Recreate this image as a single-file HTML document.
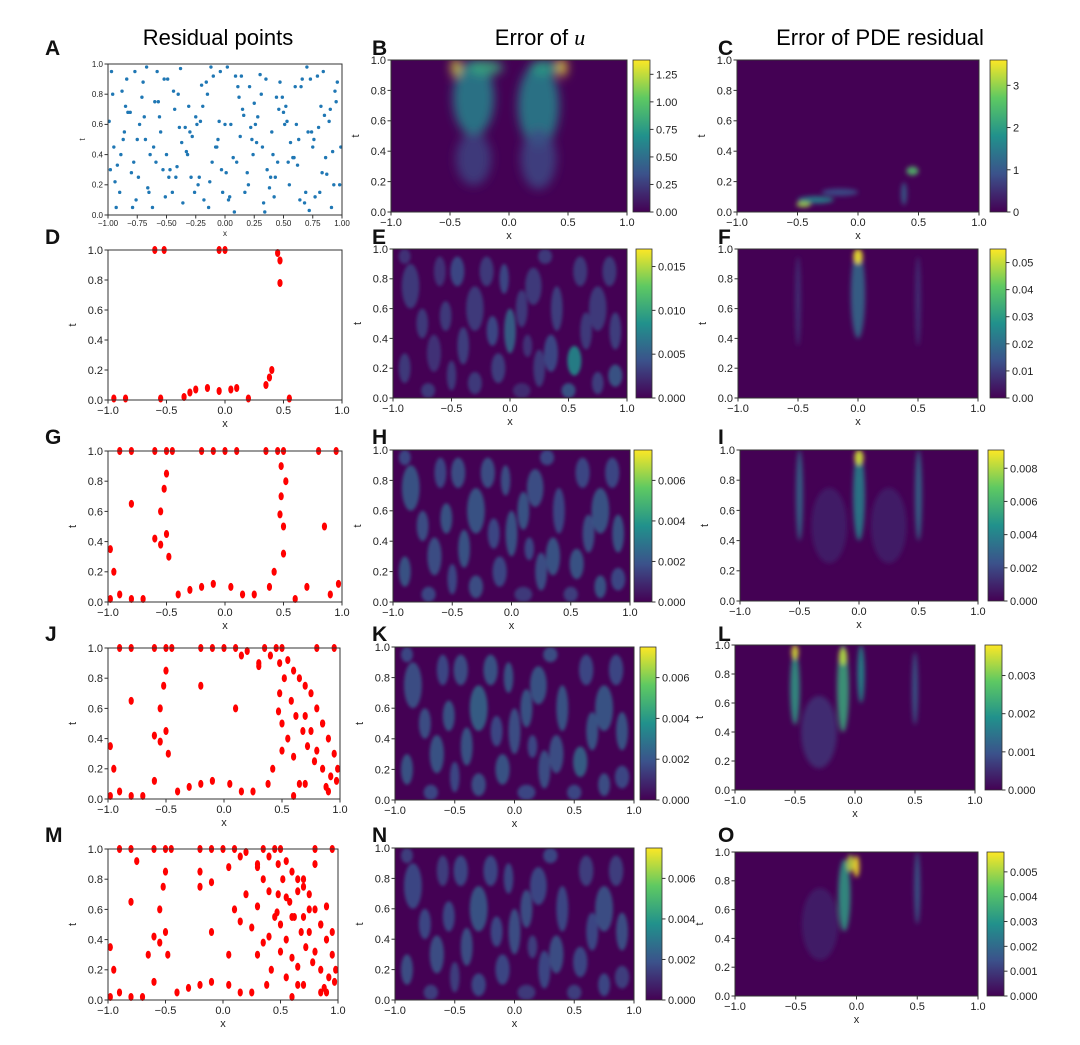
<!DOCTYPE html>
<html><head><meta charset="utf-8"><style>
body{margin:0;background:#fff;}
svg{display:block;font-family:"Liberation Sans",sans-serif;}
</style></head><body>
<svg id="fig" width="1080" height="1045" viewBox="0 0 1080 1045">
<defs>
<linearGradient id="vir" x1="0" y1="1" x2="0" y2="0">
<stop offset="0" stop-color="#440154"/><stop offset="0.25" stop-color="#3b528b"/><stop offset="0.5" stop-color="#21918c"/><stop offset="0.75" stop-color="#5ec962"/><stop offset="1" stop-color="#fde725"/>
</linearGradient>
<filter id="bl" x="-50%" y="-50%" width="200%" height="200%"><feGaussianBlur stdDeviation="2.5"/></filter>
<filter id="bl1" x="-50%" y="-50%" width="200%" height="200%"><feGaussianBlur stdDeviation="1.5"/></filter>
<filter id="bl2" x="-50%" y="-50%" width="200%" height="200%"><feGaussianBlur stdDeviation="5"/></filter>
</defs>
<text x="218" y="45" font-size="22" text-anchor="middle">Residual points</text>
<text x="540" y="45" font-size="22" text-anchor="middle">Error of <tspan font-family="Liberation Serif" font-style="italic">u</tspan></text>
<text x="880" y="45" font-size="22" text-anchor="middle">Error of PDE residual</text>
</svg>
<script>
// ---- data ----
const xTicksA=[-1,-0.75,-0.5,-0.25,0,0.25,0.5,0.75,1];
const xTickLabelsA=["−1.00","−0.75","−0.50","−0.25","0.00","0.25","0.50","0.75","1.00"];
const xTicks=[-1,-0.5,0,0.5,1];
const xTickLabels=["−1.0","−0.5","0.0","0.5","1.0"];
const tTicks=[0,0.2,0.4,0.6,0.8,1];
const tTickLabels=["0.0","0.2","0.4","0.6","0.8","1.0"];
// uniform residual points (panel A)
const ax=[-0.97,-0.9,-0.85,-0.78,-0.7,-0.62,-0.55,-0.48,-0.4,-0.33,-0.25,-0.18,-0.1,-0.03,0.05,0.12,0.2,0.27,0.35,0.42,0.5,0.58,0.65,0.72,0.8,0.87,0.95,
-0.95,-0.88,-0.8,-0.73,-0.66,-0.58,-0.5,-0.43,-0.36,-0.28,-0.2,-0.13,-0.05,0.02,0.1,0.17,0.25,0.32,0.4,0.47,0.55,0.62,0.7,0.77,0.85,0.92,
-0.99,-0.92,-0.84,-0.76,-0.68,-0.6,-0.53,-0.45,-0.38,-0.3,-0.22,-0.15,-0.07,0.0,0.08,0.15,0.23,0.3,0.38,0.45,0.53,0.6,0.68,0.75,0.83,0.9,0.98,
-0.94,-0.86,-0.79,-0.71,-0.64,-0.56,-0.49,-0.41,-0.34,-0.26,-0.19,-0.11,-0.04,0.04,0.11,0.19,0.26,0.34,0.41,0.49,0.56,0.64,0.71,0.79,0.86,0.94,
-0.96,-0.89,-0.81,-0.74,-0.67,-0.59,-0.51,-0.44,-0.37,-0.29,-0.21,-0.14,-0.06,0.01,0.09,0.16,0.24,0.31,0.39,0.46,0.54,0.61,0.69,0.76,0.84,0.91,0.99,
-0.93,-0.83,-0.75,-0.65,-0.57,-0.47,-0.39,-0.31,-0.23,-0.16,-0.08,0.03,0.13,0.21,0.28,0.36,0.44,0.51,0.59,0.66,0.74,0.81,0.89,0.96,
-0.98,-0.87,-0.77,-0.69,-0.61,-0.52,-0.42,-0.32,-0.24,-0.12,-0.02,0.07,0.14,0.22,0.33,0.43,0.52,0.63,0.73,0.82,0.93];
const at=[0.95,0.15,0.72,0.35,0.88,0.05,0.55,0.25,0.8,0.42,0.65,0.1,0.92,0.3,0.6,0.78,0.2,0.48,0.9,0.12,0.68,0.38,0.85,0.03,0.58,0.27,0.75,
0.45,0.82,0.28,0.6,0.18,0.95,0.4,0.7,0.08,0.52,0.86,0.22,0.62,0.98,0.35,0.15,0.74,0.45,0.55,0.88,0.2,0.33,0.98,0.12,0.66,0.42,
0.62,0.33,0.9,0.1,0.5,0.75,0.3,0.15,0.97,0.55,0.25,0.8,0.45,0.6,0.02,0.7,0.5,0.93,0.18,0.35,0.62,0.85,0.08,0.45,0.28,0.7,0.2,
0.22,0.55,0.05,0.78,0.4,0.65,0.9,0.32,0.58,0.15,0.72,0.35,0.95,0.12,0.85,0.28,0.6,0.02,0.4,0.78,0.48,0.1,0.55,0.92,0.38,0.82,
0.8,0.4,0.68,0.25,0.98,0.35,0.12,0.82,0.48,0.25,0.62,0.05,0.5,0.28,0.92,0.66,0.4,0.8,0.25,0.7,0.35,0.6,0.15,0.5,0.95,0.05,0.45,
0.05,0.68,0.5,0.15,0.75,0.3,0.58,0.72,0.2,0.88,0.45,0.1,0.52,0.85,0.65,0.3,0.78,0.6,0.38,0.9,0.55,0.15,0.62,0.88,
0.3,0.5,0.95,0.65,0.45,0.9,0.25,0.4,0.6,0.98,0.15,0.38,0.92,0.58,0.08,0.25,0.72,0.5,0.9,0.72,0.2];
// adaptive residual points (red) per panel
const dX=[-0.6,-0.52,-0.05,0.0,0.45,0.47,0.47,-0.95,-0.85,-0.55,-0.3,-0.25,-0.15,-0.05,0.05,0.1,-0.35,0.35,0.38,0.4,0.2,0.55];
const dT=[1.0,1.0,1.0,1.0,0.98,0.93,0.78,0.01,0.01,0.01,0.05,0.07,0.08,0.06,0.07,0.08,0.02,0.1,0.15,0.2,0.01,0.01];
const gX=[-0.9,-0.8,-0.6,-0.5,-0.45,-0.2,-0.1,0.0,0.1,0.35,0.45,0.5,0.48,0.52,0.8,0.95,-0.5,-0.52,-0.55,-0.5,-0.48,0.48,0.47,0.5,0.5,-0.8,-0.6,-0.55,0.85,-0.98,-0.95,-0.9,-0.8,-0.7,-0.4,-0.3,-0.2,-0.1,0.05,0.15,0.25,0.38,0.42,0.6,0.7,0.9,0.97,-0.98];
const gT=[1.0,1.0,1.0,1.0,1.0,1.0,1.0,1.0,1.0,1.0,1.0,1.0,0.9,0.8,1.0,1.0,0.85,0.75,0.6,0.45,0.3,0.7,0.58,0.5,0.32,0.65,0.42,0.38,0.5,0.35,0.2,0.05,0.02,0.02,0.05,0.08,0.1,0.12,0.1,0.05,0.05,0.1,0.2,0.02,0.1,0.05,0.12,0.02];
const jX=gX.concat([0.15,0.3,0.55,0.6,0.65,0.7,0.75,0.8,0.85,0.9,0.95,0.58,0.62,0.68,0.72,0.78,0.85,0.92,0.55,0.65,0.75,0.2,0.3,0.4,0.6,0.7,0.8,0.88,0.98,-0.2,-0.6,0.1]);
const jT=gT.concat([0.95,0.9,0.92,0.85,0.8,0.75,0.7,0.6,0.5,0.4,0.3,0.65,0.55,0.45,0.35,0.25,0.2,0.15,0.4,0.1,0.45,0.98,0.88,0.95,0.28,0.55,0.32,0.08,0.2,0.75,0.12,0.6]);
const mX=jX.concat([-0.2,-0.1,0.05,0.2,0.3,0.35,0.4,0.55,0.6,0.65,0.7,0.8,0.9,0.95,0.25,0.35,0.45,0.55,0.65,0.75,0.85,0.3,0.4,-0.75,-0.65,-0.1,0.05,0.15]);
const mT=jT.concat([0.85,0.78,0.88,0.7,0.62,0.8,0.72,0.15,0.55,0.22,0.8,0.9,0.62,0.45,0.48,0.38,0.55,0.68,0.72,0.6,0.05,0.3,0.42,0.92,0.3,0.45,0.3,0.52]);
// heatmap blobs [x, t, width, height, intensity(0-1)]
const bBlobs=[[-0.3,0.75,0.35,0.5,0.45],[0.25,0.7,0.35,0.55,0.45],[-0.3,0.35,0.3,0.35,0.2],[0.25,0.35,0.3,0.4,0.22],[-0.45,0.95,0.08,0.12,0.95],[0.45,0.95,0.08,0.12,1.0],[-0.2,0.95,0.3,0.1,0.6],[0.3,0.95,0.25,0.1,0.55]];
const cBlobs=[[-0.35,0.08,0.3,0.05,0.45],[-0.15,0.13,0.3,0.05,0.25],[-0.45,0.05,0.12,0.04,0.85],[0.45,0.27,0.1,0.06,0.7],[0.38,0.12,0.05,0.15,0.3]];
const texBlobs=[[-0.85,0.75,0.15,0.3],[-0.65,0.3,0.12,0.25],[-0.3,0.6,0.15,0.3],[-0.1,0.2,0.12,0.2],[0.0,0.45,0.1,0.3],[0.2,0.75,0.14,0.25],[0.35,0.3,0.12,0.25],[0.55,0.25,0.12,0.2],[0.75,0.6,0.15,0.3],[0.9,0.15,0.12,0.15],[-0.45,0.85,0.12,0.2],[-0.9,0.2,0.1,0.2],[0.6,0.85,0.12,0.2],[-0.55,0.55,0.1,0.2],[0.1,0.05,0.15,0.1],
[-0.75,0.5,0.1,0.2],[-0.6,0.85,0.1,0.2],[-0.4,0.35,0.1,0.25],[-0.2,0.85,0.12,0.2],[-0.15,0.45,0.1,0.2],[0.1,0.6,0.1,0.25],[0.25,0.2,0.1,0.25],[0.4,0.6,0.1,0.3],[0.5,0.05,0.12,0.1],[0.65,0.45,0.1,0.25],[0.85,0.85,0.12,0.2],[0.9,0.45,0.1,0.25],[-0.9,0.95,0.1,0.1],[-0.3,0.1,0.12,0.15],[0.15,0.35,0.08,0.15],[-0.7,0.05,0.12,0.1],[0.75,0.1,0.1,0.15],[-0.5,0.15,0.08,0.2],[0.3,0.95,0.12,0.1],[-0.05,0.8,0.08,0.2]];
const eInt=[0.2,0.18,0.2,0.22,0.35,0.2,0.25,0.5,0.2,0.3,0.25,0.2,0.2,0.2,0.15,0.2,0.18,0.22,0.2,0.25,0.2,0.2,0.22,0.3,0.2,0.2,0.22,0.18,0.2,0.18,0.2,0.22,0.2,0.2,0.25];
const hInt=[0.3,0.28,0.3,0.25,0.3,0.28,0.3,0.3,0.3,0.25,0.28,0.3,0.25,0.3,0.2,0.28,0.25,0.3,0.28,0.25,0.3,0.28,0.25,0.22,0.28,0.25,0.3,0.25,0.28,0.25,0.25,0.3,0.25,0.25,0.28];
const kInt=[0.28,0.3,0.35,0.3,0.28,0.3,0.28,0.35,0.3,0.25,0.28,0.3,0.25,0.3,0.25,0.28,0.25,0.3,0.3,0.25,0.3,0.28,0.3,0.25,0.3,0.25,0.3,0.25,0.28,0.25,0.25,0.28,0.25,0.28,0.3];
const nInt=[0.25,0.28,0.3,0.25,0.28,0.25,0.28,0.25,0.28,0.22,0.25,0.28,0.22,0.25,0.2,0.25,0.22,0.28,0.25,0.25,0.28,0.25,0.25,0.22,0.25,0.22,0.28,0.22,0.25,0.22,0.22,0.25,0.22,0.25,0.25];
const fBlobs=[[0.0,0.7,0.12,0.6,0.35],[0.0,0.95,0.08,0.1,1.0],[-0.5,0.65,0.05,0.6,0.15],[0.5,0.65,0.05,0.6,0.15]];
const iBlobs=[[0.0,0.7,0.1,0.6,0.45],[0.0,0.95,0.08,0.1,0.95],[-0.5,0.7,0.06,0.6,0.35],[0.5,0.7,0.06,0.6,0.35],[-0.25,0.5,0.3,0.5,0.1],[0.25,0.5,0.3,0.5,0.1]];
const lBlobs=[[-0.5,0.7,0.08,0.5,0.55],[-0.5,0.95,0.06,0.1,0.95],[-0.1,0.7,0.1,0.6,0.6],[-0.1,0.92,0.07,0.12,0.9],[0.05,0.8,0.06,0.4,0.5],[0.5,0.7,0.05,0.5,0.3],[-0.3,0.4,0.3,0.5,0.15]];
const oBlobs=[[-0.1,0.7,0.1,0.5,0.55],[-0.05,0.92,0.06,0.12,0.9],[0.0,0.9,0.05,0.15,1.0],[0.5,0.75,0.05,0.5,0.3],[-0.3,0.5,0.3,0.5,0.1]];
// colorbar ticks
const cbB=[0,0.25,0.5,0.75,1.0,1.25], cbBL=["0.00","0.25","0.50","0.75","1.00","1.25"], cbBMax=1.38;
const cbC=[0,1,2,3], cbCL=["0","1","2","3"], cbCMax=3.6;
const cbE=[0,0.005,0.01,0.015], cbEL=["0.000","0.005","0.010","0.015"], cbEMax=0.017;
const cbF=[0,0.01,0.02,0.03,0.04,0.05], cbFL=["0.00","0.01","0.02","0.03","0.04","0.05"], cbFMax=0.055;
const cbH=[0,0.002,0.004,0.006], cbHL=["0.000","0.002","0.004","0.006"], cbHMax=0.0075;
const cbI=[0,0.002,0.004,0.006,0.008], cbIL=["0.000","0.002","0.004","0.006","0.008"], cbIMax=0.0091;
const cbL=[0,0.001,0.002,0.003], cbLL=["0.000","0.001","0.002","0.003"], cbLMax=0.0038;
const cbO=[0,0.001,0.002,0.003,0.004,0.005], cbOL=["0.000","0.001","0.002","0.003","0.004","0.005"], cbOMax=0.0058;

// ---- drawing ----
const svg=document.getElementById('fig');
const NS="http://www.w3.org/2000/svg";
function mk(tag,attrs,parent){const e=document.createElementNS(NS,tag);for(const k in attrs)e.setAttribute(k,attrs[k]);(parent||svg).appendChild(e);return e;}
const vir=[[68,1,84],[59,82,139],[33,145,140],[94,201,98],[253,231,37]];
function viridis(v){v=Math.max(0,Math.min(1,v))*4;const i=Math.min(3,Math.floor(v)),f=v-i;const a=vir[i],b=vir[i+1];return `rgb(${a.map((c,k)=>Math.round(c+(b[k]-c)*f)).join(',')})`;}

function axes(name,b,fs,xt,xtl){
  const g=mk('g',{});
  
  
  const sx=v=>b.x+(v+1)/2*b.w, sy=v=>b.y+b.h-v*b.h;
  return {g,sx,sy,finish(){
    const fr=mk('rect',{x:b.x,y:b.y,width:b.w,height:b.h,fill:'none',stroke:'#333','stroke-width':1},g);
    
    
    xt.forEach((v,i)=>{mk('line',{x1:sx(v),x2:sx(v),y1:b.y+b.h,y2:b.y+b.h+3.5,stroke:'#333'},g);
      const t=mk('text',{x:sx(v),y:b.y+b.h+fs+3,'font-size':fs,'text-anchor':'middle',fill:'#222'},g);t.textContent=xtl[i];
      
      });
    tTicks.forEach((v,i)=>{mk('line',{x1:b.x-3.5,x2:b.x,y1:sy(v),y2:sy(v),stroke:'#333'},g);
      const t=mk('text',{x:b.x-5,y:sy(v)+fs*0.35,'font-size':fs,'text-anchor':'end',fill:'#222'},g);t.textContent=tTickLabels[i];
      
      });
    const xl=mk('text',{x:b.x+b.w/2,y:b.y+b.h+2*fs+5,'font-size':fs,'text-anchor':'middle',fill:'#222'},g);xl.textContent='x';
    
    
    const yl=mk('text',{x:b.x-fs*2.9,y:b.y+b.h/2,'font-size':fs,'text-anchor':'middle',fill:'#222',transform:`rotate(-90 ${b.x-fs*2.9} ${b.y+b.h/2})`},g);yl.textContent='t';
    
    
  }};
}
function scatter(name,b,xs,ts,red){
  const A=red?axes(name,b,11,xTicks,xTickLabels):axes(name,b,8,xTicksA,xTickLabelsA);
  xs.forEach((x,i)=>{
    const p=red?mk('ellipse',{cx:A.sx(x),cy:A.sy(ts[i]),rx:2.6,ry:4,fill:'#ff0000'},A.g)
               :mk('circle',{cx:A.sx(x),cy:A.sy(ts[i]),r:1.7,fill:'#1f77b4'},A.g);
    
    
  });
  A.finish();
}
let clipN=0;
function heat(name,b,blobs,ints,cb,cbTicks,cbLabels,cbMax,blur){
  const A=axes(name,b,11,xTicks,xTickLabels);
  const id='c'+(clipN++);
  const cp=mk('clipPath',{id},A.g);mk('rect',{x:b.x,y:b.y,width:b.w,height:b.h},cp);
  const hg=mk('g',{'clip-path':`url(#${id})`},A.g);
  const bg=mk('rect',{x:b.x,y:b.y,width:b.w,height:b.h,fill:'#440154'},hg);
  
  
  const bgg=mk('g',{filter:`url(#${blur||'bl'})`},hg);
  blobs.forEach((bl,i)=>{
    const v=ints?ints[i]:bl[4];
    const e=mk('ellipse',{cx:A.sx(bl[0]),cy:A.sy(bl[1]),rx:bl[2]*b.w/4,ry:bl[3]*b.h/2,fill:viridis(v),opacity:0.85},bgg);
    
    
  });
  A.finish();
  const cg=mk('g',{});
  
  
  mk('rect',{x:cb.x,y:cb.y,width:cb.w,height:cb.h,fill:'url(#vir)',stroke:'#333','stroke-width':0.8},cg);
  cbTicks.forEach((v,i)=>{const y=cb.y+cb.h-v/cbMax*cb.h;
    mk('line',{x1:cb.x+cb.w,x2:cb.x+cb.w+3.5,y1:y,y2:y,stroke:'#333'},cg);
    const t=mk('text',{x:cb.x+cb.w+6,y:y+4,'font-size':11,fill:'#222'},cg);t.textContent=cbLabels[i];
    
    });
}
scatter('panel-a-residual-points',{x:108,y:64,w:234,h:151},ax,at,false);
scatter('panel-d-residual-points',{x:108,y:250,w:234,h:150},dX,dT,true);
scatter('panel-g-residual-points',{x:108,y:451,w:234,h:151},gX,gT,true);
scatter('panel-j-residual-points',{x:108,y:648,w:232,h:151},jX,jT,true);
scatter('panel-m-residual-points',{x:108,y:849,w:230,h:151},mX,mT,true);

heat('panel-b-error-u',{x:391,y:60,w:236,h:152},bBlobs,null,{x:633,y:60,w:17,h:152},cbB,cbBL,cbBMax,'bl2');
heat('panel-c-error-pde',{x:737,y:60,w:242,h:152},cBlobs,null,{x:990,y:60,w:17,h:152},cbC,cbCL,cbCMax);
heat('panel-e-error-u',{x:393,y:249,w:234,h:149},texBlobs,eInt,{x:636,y:249,w:16,h:149},cbE,cbEL,cbEMax,'bl1');
heat('panel-f-error-pde',{x:738,y:249,w:240,h:149},fBlobs,null,{x:990,y:249,w:16,h:149},cbF,cbFL,cbFMax);
heat('panel-h-error-u',{x:393,y:450,w:237,h:152},texBlobs,hInt,{x:634,y:450,w:18,h:152},cbH,cbHL,cbHMax,'bl1');
heat('panel-i-error-pde',{x:740,y:450,w:238,h:151},iBlobs,null,{x:988,y:450,w:16,h:151},cbI,cbIL,cbIMax);
heat('panel-k-error-u',{x:395,y:647,w:239,h:153},texBlobs,kInt,{x:640,y:647,w:16,h:153},cbH,cbHL,cbHMax,'bl1');
heat('panel-l-error-pde',{x:735,y:645,w:240,h:145},lBlobs,null,{x:985,y:645,w:17,h:145},cbL,cbLL,cbLMax);
heat('panel-n-error-u',{x:395,y:848,w:239,h:152},texBlobs,nInt,{x:646,y:848,w:16,h:152},cbH,cbHL,cbHMax,'bl1');
heat('panel-o-error-pde',{x:735,y:852,w:243,h:144},oBlobs,null,{x:987,y:852,w:17,h:144},cbO,cbOL,cbOMax);

const letters=[['A',45,55],['B',372,55],['C',718,55],['D',45,244],['E',372,244],['F',718,244],['G',45,444],['H',372,444],['I',718,444],['J',45,641],['K',372,641],['L',718,641],['M',45,842],['N',372,842],['O',718,842]];
letters.forEach(l=>{const t=mk('text',{x:l[1],y:l[2],'font-size':21,'font-weight':'bold',fill:'#111'});t.textContent=l[0];
  
  });
</script>
</body></html>
